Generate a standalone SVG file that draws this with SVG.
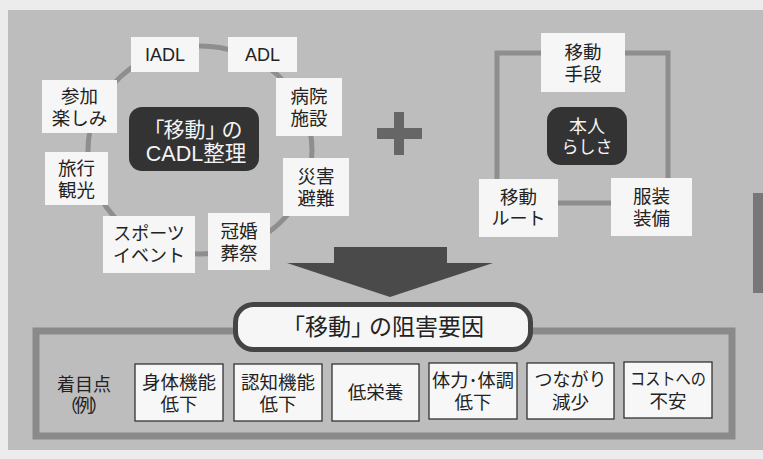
<svg xmlns="http://www.w3.org/2000/svg" width="763" height="459" viewBox="0 0 763 459">
<style>
text{font-family:"Liberation Sans","Noto Sans CJK JP",sans-serif;fill:#222;text-anchor:middle;dominant-baseline:central}
.box{fill:#f6f6f6}
.dark{fill:#333}
.dark-t{fill:#f4f4f4}
.t17{font-size:17px}
.t18{font-size:18px}
.t185{font-size:18.5px}
.ring{fill:none;stroke:#8e8e8e;stroke-width:5}
.fbox{fill:#f7f7f7;stroke:#333;stroke-width:1.3}
</style>
<rect x="0" y="0" width="763" height="459" fill="#ececec"/>
<rect x="8" y="10" width="755" height="440" fill="#bdbdbd"/>
<rect x="753" y="193" width="10" height="100" fill="#777"/>
<g id="connectors">
<ellipse class="ring" cx="200" cy="150" rx="112" ry="104"/>
<rect class="ring" x="497" y="53" width="171" height="150" stroke-width="6"/>
</g>
<g id="plus" fill="#666">
<rect x="394" y="112" width="10" height="43"/>
<rect x="377" y="128" width="45" height="11"/>
</g>
<g id="arrow">
<polygon points="334,247 447,247 447,263 493,263 390,297 287,263 334,263" fill="#4a4a4a"/>
</g>
<g id="n-iadl"><rect class="box" x="131" y="37" width="68" height="35"/><text class="t18" x="165" y="55">IADL</text></g>
<g id="n-adl"><rect class="box" x="228" y="37" width="69" height="35"/><text class="t18" x="262.5" y="55">ADL</text></g>
<g id="n-hospital"><rect class="box" x="276" y="78" width="66" height="58"/><text class="t185" x="309" y="96">病院</text><text class="t185" x="309" y="118">施設</text></g>
<g id="n-participation"><rect class="box" x="42" y="80" width="75" height="53"/><text class="t185" x="79.5" y="96">参加</text><text class="t185" x="79.5" y="118">楽しみ</text></g>
<g id="n-cadl"><rect class="dark" x="129" y="107" width="130" height="64" rx="13"/><text class="dark-t" x="193" y="129" font-size="21" dx="0 -1 0 0 -5">「移動」の</text><text class="dark-t" x="196" y="154" font-size="21.5">CADL整理</text></g>
<g id="n-travel"><rect class="box" x="45" y="152" width="63" height="53"/><text class="t185" x="76.5" y="168">旅行</text><text class="t185" x="76.5" y="190">観光</text></g>
<g id="n-disaster"><rect class="box" x="283" y="158" width="66" height="58"/><text class="t185" x="316" y="176">災害</text><text class="t185" x="316" y="198">避難</text></g>
<g id="n-sports"><rect class="box" x="103" y="216" width="92" height="57"/><text class="t18" x="149" y="234">スポーツ</text><text class="t18" x="149" y="256">イベント</text></g>
<g id="n-ceremony"><rect class="box" x="208" y="213" width="62" height="57"/><text class="t185" x="239" y="231">冠婚</text><text class="t185" x="239" y="253">葬祭</text></g>
<g id="n-means"><rect class="box" x="541" y="33" width="84" height="59"/><text class="t185" x="583" y="52">移動</text><text class="t185" x="583" y="74">手段</text></g>
<g id="n-self"><rect class="dark" x="547" y="107" width="80" height="58" rx="14"/><text class="dark-t" x="587" y="127" font-size="18">本人</text><text class="dark-t" x="587" y="147" font-size="17">らしさ</text></g>
<g id="n-route"><rect class="box" x="479" y="179" width="79" height="58"/><text class="t185" x="518.5" y="197">移動</text><text class="t18" x="518.5" y="219">ルート</text></g>
<g id="n-clothing"><rect class="box" x="611" y="178" width="81" height="58"/><text class="t185" x="651.5" y="196">服装</text><text class="t185" x="651.5" y="218">装備</text></g>
<g id="bottom-frame"><rect x="36" y="331" width="696" height="105" fill="none" stroke="#8a8a8a" stroke-width="7"/></g>
<g id="n-title"><rect x="235.5" y="304.5" width="295" height="45" rx="18" fill="#f6f6f6" stroke="#444" stroke-width="5"/><text x="383" y="327" font-size="23" dx="0 0 0 0 -5">「移動」の阻害要因</text></g>
<g id="n-focus"><text class="t18" x="84" y="385">着目点</text><text class="t18" x="84" y="406" dx="0 -3 -3">（例）</text></g>
<g id="f1"><rect class="fbox" x="135" y="364" width="88" height="57"/><text class="t185" x="179" y="382">身体機能</text><text class="t185" x="179" y="404">低下</text></g>
<g id="f2"><rect class="fbox" x="234" y="364" width="88" height="57"/><text class="t185" x="278" y="382">認知機能</text><text class="t185" x="278" y="404">低下</text></g>
<g id="f3"><rect class="fbox" x="332" y="364" width="87" height="57"/><text class="t185" x="375.5" y="392">低栄養</text></g>
<g id="f4"><rect class="fbox" x="429" y="363" width="88" height="56"/><text class="t185" x="473" y="380" textLength="82" lengthAdjust="spacingAndGlyphs">体力･体調</text><text class="t185" x="473" y="402">低下</text></g>
<g id="f5"><rect class="fbox" x="527" y="363" width="87" height="56"/><text class="t18" x="570.5" y="380">つながり</text><text class="t185" x="570.5" y="402">減少</text></g>
<g id="f6"><rect class="fbox" x="624" y="362" width="88" height="56"/><text class="t17" x="668" y="379" textLength="76" lengthAdjust="spacingAndGlyphs">コストへの</text><text class="t185" x="668" y="401">不安</text></g>
</svg>
